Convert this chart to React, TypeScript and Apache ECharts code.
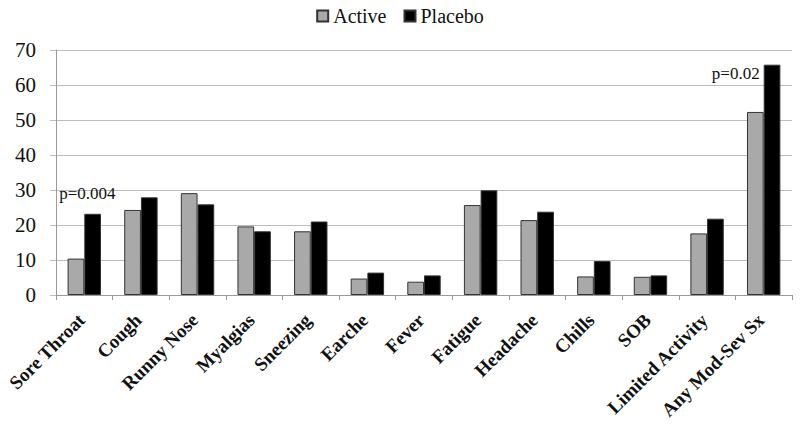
import React, { useEffect, useRef } from "react";
import * as echarts from "echarts";

const categories = [
  "Sore Throat", "Cough", "Runny Nose", "Myalgias", "Sneezing", "Earche", "Fever",
  "Fatigue", "Headache", "Chills", "SOB", "Limited Activity", "Any Mod-Sev Sx",
];
const activeValues = [10.4, 24.3, 29.1, 19.6, 18.2, 4.7, 3.8, 25.7, 21.4, 5.3, 5.2, 17.6, 52.3];
const placeboValues = [23.2, 27.9, 25.9, 18.2, 21.0, 6.4, 5.6, 29.9, 23.8, 9.7, 5.6, 21.8, 65.8];
const annotations: { [k: number]: string } = { 0: "p=0.004", 12: "p=0.02" };

const SERIF = "Liberation Serif";

export default function App() {
  const ref = useRef<HTMLDivElement>(null);
  useEffect(() => {
    if (!ref.current) return;
    const chart = echarts.init(ref.current, undefined, { renderer: "svg" });
    const placeboData = placeboValues.map((v, i) => {
      const txt = annotations[i];
      if (!txt) return v;
      const first = i === 0;
      return {
        value: v,
        label: {
          show: true,
          formatter: txt,
          position: first ? [3, -20] : [-4, 9],
          align: first ? "center" : "right",
          verticalAlign: "middle",
          fontFamily: SERIF,
          fontSize: 17,
          color: "#111",
        },
      };
    });
    chart.setOption({
      animation: false,
      backgroundColor: "#fff",
      textStyle: { fontFamily: SERIF },
      legend: {
        top: 1,
        left: "center",
        itemWidth: 11,
        itemHeight: 11,
        itemGap: 17,
        icon: "rect",
        textStyle: { fontFamily: SERIF, fontSize: 20, color: "#111" },
        data: ["Active", "Placebo"],
      },
      grid: {
        left: 56,
        right: 8,
        top: 50,
        bottom: 144,
        containLabel: false,
        outerBoundsMode: "none",
      },
      xAxis: {
        type: "category",
        data: categories,
        axisLine: { show: true, lineStyle: { color: "#9a9a9a", width: 1 } },
        axisTick: { show: true, alignWithLabel: false, length: 5, lineStyle: { color: "#9a9a9a" } },
        axisLabel: {
          rotate: 45,
          interval: 0,
          margin: 19,
          padding: [0, 4, 0, 0],
          fontFamily: SERIF,
          fontSize: 19,
          fontWeight: "bold",
          color: "#111",
        },
      },
      yAxis: {
        type: "value",
        min: 0,
        max: 70,
        interval: 10,
        axisLine: { show: true, lineStyle: { color: "#9a9a9a", width: 1 } },
        axisTick: { show: true, length: 6, lineStyle: { color: "#bdbdbd" } },
        splitLine: { show: true, lineStyle: { color: "#bdbdbd", width: 1 } },
        axisLabel: { margin: 20, fontFamily: SERIF, fontSize: 21, color: "#111" },
      },
      series: [
        {
          name: "Active",
          type: "bar",
          data: activeValues,
          barGap: "0%",
          barCategoryGap: "41%",
          itemStyle: { color: "#a9a9a9", borderColor: "#333", borderWidth: 1 },
        },
        {
          name: "Placebo",
          type: "bar",
          data: placeboData,
          barGap: "0%",
          barCategoryGap: "41%",
          itemStyle: { color: "#000", borderColor: "#333", borderWidth: 1 },
        },
      ],
    });
    return () => chart.dispose();
  }, []);
  return (
    <div
      ref={ref}
      style={{ position: "absolute", left: 0, top: 0, width: 800, height: 439 }}
    />
  );
}
